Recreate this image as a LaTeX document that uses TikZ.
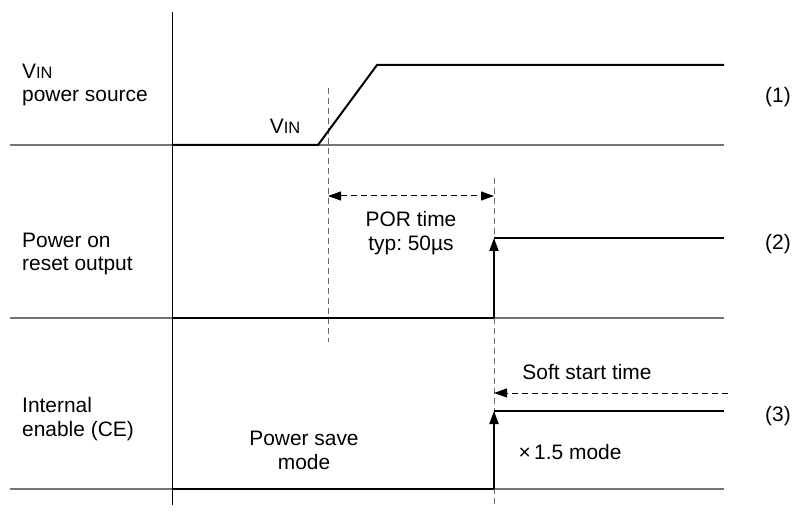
\documentclass[tikz,border=0pt]{standalone}
\usepackage{fontspec}
\setmainfont{Liberation Sans}
\usetikzlibrary{arrows.meta}
\frenchspacing
\newcommand\vinlabel{V{\fontsize{16.5}{16.5}\selectfont IN}}
\begin{document}
\begin{tikzpicture}[x=1bp,y=-1bp,
  font=\fontsize{21}{24}\selectfont,
  sep/.style={draw=black!55, line width=1.2bp},
  axisline/.style={draw=black, line width=1bp},
  sig/.style={draw=black, line width=2bp, line join=miter},
  guide/.style={draw=black!60, line width=1bp, dash pattern=on 6bp off 4bp},
  tip/.style={-{Triangle[length=13bp,width=9bp]}},
  dtip/.style={{Triangle[length=13bp,width=9bp]}-{Triangle[length=13bp,width=9bp]}},
  lbl/.style={align=left, anchor=west, inner sep=0pt},
  txt/.style={align=center, inner sep=0pt}]
\useasboundingbox (0,0) rectangle (794,521);
% grid lines
\coordinate (s1l) at (10,145); \coordinate (s1r) at (724,145);
\coordinate (s2l) at (10,318); \coordinate (s2r) at (724,318);
\coordinate (s3l) at (10,489); \coordinate (s3r) at (724,489);
\draw[sep] (s1l) -- (s1r);
\draw[sep] (s2l) -- (s2r);
\draw[sep] (s3l) -- (s3r);
\coordinate (axt) at (172,12); \coordinate (axb) at (172,505);
\draw[axisline] (axt) -- (axb);
% guides
\coordinate (g1t) at (328,88); \coordinate (g1b) at (328,342);
\coordinate (g2t) at (494,178); \coordinate (g2b) at (494,505);
\draw[guide] (g1t) -- (g1b);
\draw[guide] (g2t) -- (g2b);
% signal 1
\coordinate (a0) at (172,145); \coordinate (a1) at (318,145);
\coordinate (a2) at (377,65); \coordinate (a3) at (724,65);
\draw[sig] (a0) -- (a1) -- (a2) -- (a3);
% signal 2
\coordinate (b0) at (172,318); \coordinate (b1) at (494,318);
\coordinate (b2) at (494,238); \coordinate (b3) at (724,238);
\draw[sig] (b0) -- (b1);
\draw[sig, tip] (b1) -- (b2);
\draw[sig] (b2) -- (b3);
% signal 3
\coordinate (c0) at (172,489); \coordinate (c1) at (494,489);
\coordinate (c2) at (494,411); \coordinate (c3) at (724,411);
\draw[sig] (c0) -- (c1);
\draw[sig, tip] (c1) -- (c2);
\draw[sig] (c2) -- (c3);
% POR arrow
\coordinate (p0) at (328,196); \coordinate (p1) at (494,196);
\draw[guide, dtip, draw=black] (p0) -- (p1);
% soft start arrow
\coordinate (q0) at (728,393); \coordinate (q1) at (494,393);
\draw[guide, tip, draw=black] (q0) -- (q1);
% labels
\node[lbl] (l1) at (22,85) {\vinlabel\\power source};
\node[lbl] (l2) at (22,254) {Power on\\reset output};
\node[lbl] (l3) at (22,419) {Internal\\enable (CE)};
\node[txt] (n1) at (778,97) {(1)};
\node[txt] (n2) at (778,244) {(2)};
\node[txt] (n3) at (778,416) {(3)};
\node[txt] (vin) at (285,126) {\vinlabel};
\node[txt] (por) at (411,233) {POR time\\typ: 50µs};
\node[txt] (psm) at (304,450) {Power save\\mode};
\node[txt] (sst) at (587,372) {Soft start time};
\node[txt] (x15) at (570,452) {×\,1.5 mode};
\end{tikzpicture}
\end{document}
